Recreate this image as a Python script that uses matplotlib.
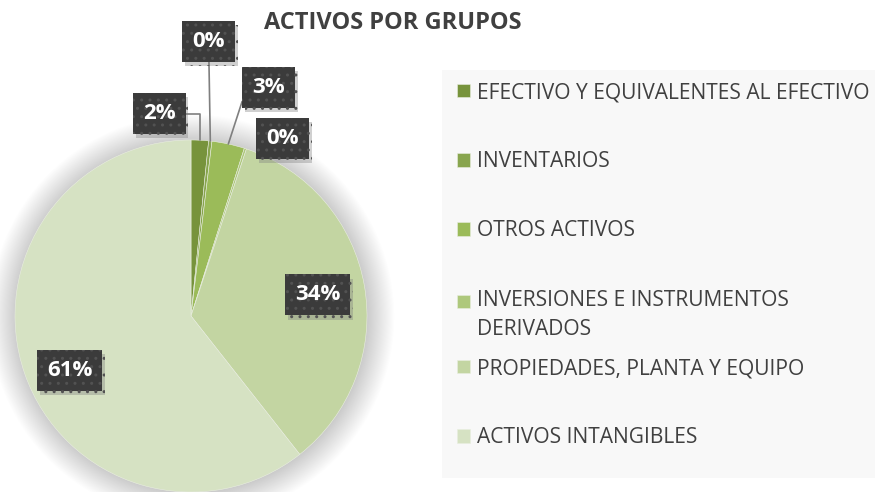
import numpy as np
import matplotlib.pyplot as plt
import matplotlib.patheffects as pe
from matplotlib.patches import Circle, Rectangle

plt.rcParams['font.family'] = ['Open Sans', 'DejaVu Sans']

categorias = ['EFECTIVO Y EQUIVALENTES AL EFECTIVO', 'INVENTARIOS', 'OTROS ACTIVOS',
              'INVERSIONES E INSTRUMENTOS\nDERIVADOS', 'PROPIEDADES, PLANTA Y EQUIPO',
              'ACTIVOS INTANGIBLES']
valores = [1.6, 0.3, 3.0, 0.2, 34.3, 60.6]
colores = ['#77933C', '#88A54E', '#9BBB59', '#AEC87C', '#C3D5A2', '#D6E2C3']

W, H = 875, 492
fig = plt.figure(figsize=(W / 100, H / 100), dpi=100)
fig.patch.set_facecolor('white')

# pie area: centre (191, 316) px, radius 176 px
cx, cy, r = 191, 316, 176
ax = fig.add_axes([(cx - r) / W, (H - cy - r) / H, 2 * r / W, 2 * r / H])

wedges, _ = ax.pie(valores, colors=colores, startangle=90, counterclock=False,
                   radius=1, wedgeprops=dict(linewidth=0.4, edgecolor='#E9EEE0'))
for w in wedges:
    w.set_zorder(2)
ax.set_xlim(-1, 1)
ax.set_ylim(-1, 1)
ax.set_aspect('equal')
ax.axis('off')

# soft glow around the pie
for k in range(26):
    ax.add_patch(Circle((0.005, -0.005), 1.0 + 0.006 * k, color='#000000', alpha=0.009,
                        lw=0, zorder=0, clip_on=False))

total = sum(valores)
etiquetas = [f'{v / total * 100:.0f}%' for v in valores]

# label positions (axes data units) and leader styles
pos_lbl = [(-0.18, 1.15), (0.10, 1.56), (0.44, 1.30), (0.52, 1.01), (0.72, 0.12), (-0.69, -0.31)]
conectores = ['angle,angleA=0,angleB=90,rad=0', 'arc3', 'angle,angleA=0,angleB=72,rad=0',
              None, None, None]

for w, txt, (lx, ly), con in zip(wedges, etiquetas, pos_lbl, conectores):
    ang = np.deg2rad((w.theta1 + w.theta2) / 2)
    punto = (np.cos(ang), np.sin(ang))
    kw = dict(xy=punto, xytext=(lx, ly), ha='center', va='center', color='white',
              fontsize=16, fontweight='bold', annotation_clip=False, zorder=5,
              bbox=dict(boxstyle='square,pad=0.45', fc='#3B3B3B', ec='#525252', lw=0,
                        hatch='..'))
    if con is not None:
        kw['arrowprops'] = dict(arrowstyle='-', color='#7F7F7F', lw=1.2,
                                connectionstyle=con, shrinkA=0, shrinkB=0)
    t = ax.annotate(txt, **kw)
    t.get_bbox_patch().set_path_effects([pe.withSimplePatchShadow(offset=(2, -3),
                                                                  shadow_rgbFace='#7A7A7A',
                                                                  alpha=0.35)])

fig.text(393 / W, 1 - 23 / H, 'ACTIVOS POR GRUPOS', ha='center', va='center',
         fontsize=17, fontweight='bold', color='#404040')

# legend background panel
fig.patches.append(Rectangle((442 / W, 1 - 478 / H), (W - 442) / W, 408 / H,
                             transform=fig.transFigure, fc='#F8F8F8', ec='none', zorder=0))

leg_kw = dict(loc='upper left', frameon=False, fontsize=15.1, labelcolor='#404040',
              handlelength=0.62, handleheight=0.62, handletextpad=0.35,
              labelspacing=2.3, borderaxespad=0, borderpad=0)
leg1 = fig.legend(wedges[:4], categorias[:4], bbox_to_anchor=(457 / W, 1 - 82 / H), **leg_kw)
for t in leg1.get_texts():
    t.set_linespacing(1.5)
# keep the marker on the first line of the wrapped label
h4 = leg1.legend_handles[3]
h4.set_y(h4.get_y() + 10)
leg2 = fig.legend(wedges[4:], categorias[4:], bbox_to_anchor=(457 / W, 1 - 358 / H), **leg_kw)

fig.savefig('out.png', dpi=100)
